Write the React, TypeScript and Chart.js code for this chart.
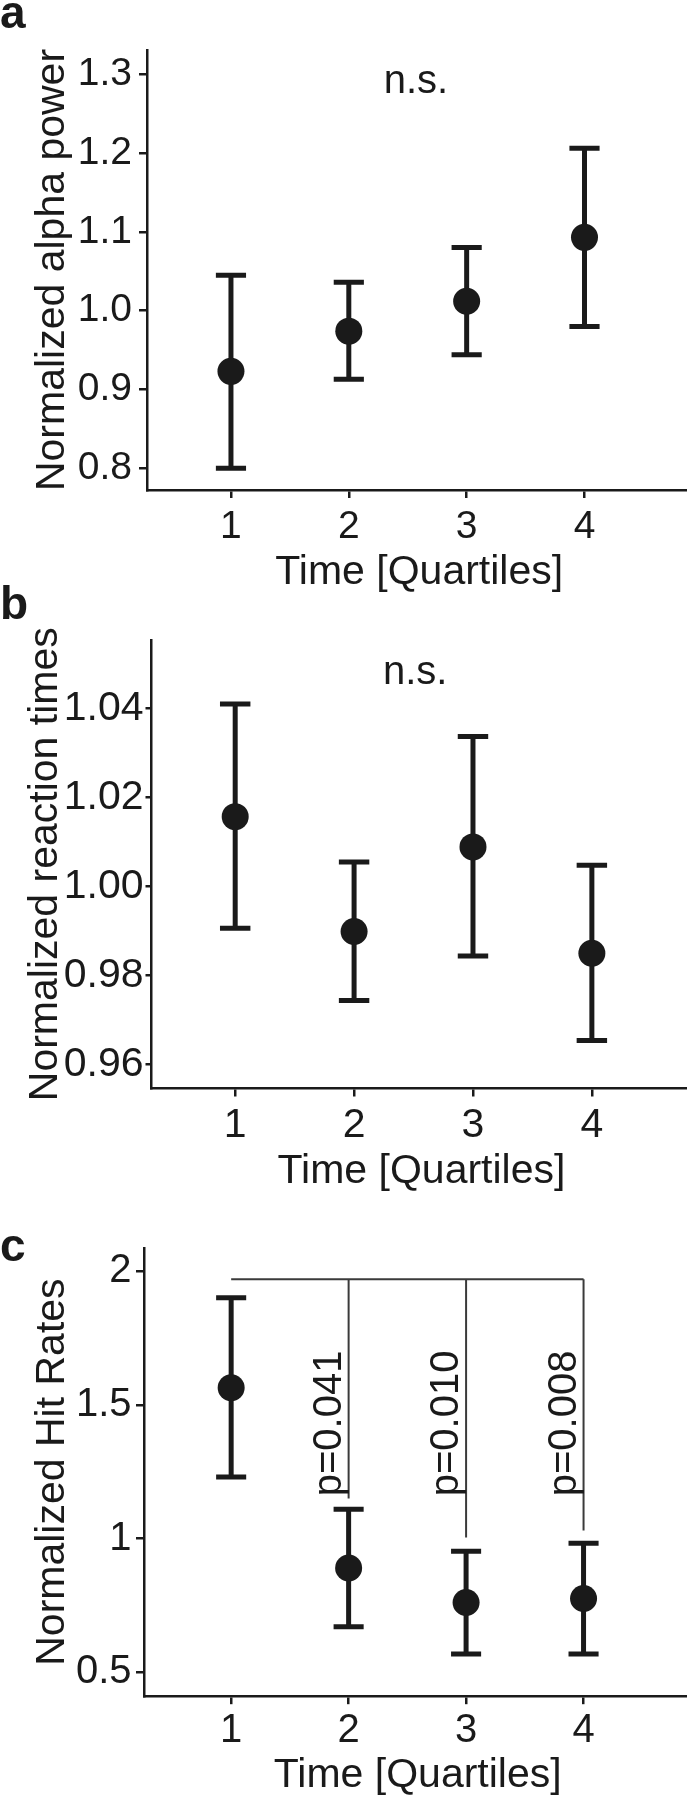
import React, { useEffect, useRef } from 'react';
import { Chart, registerables } from 'chart.js';

Chart.register(...registerables);

// ---------- data ----------
const quartiles = [1, 2, 3, 4];
const xTickLabels = ['1', '2', '3', '4'];

// panel a: normalized alpha power
const alphaMean = [0.923, 0.974, 1.012, 1.093];
const alphaUpper = [1.045, 1.036, 1.080, 1.206];
const alphaLower = [0.800, 0.913, 0.944, 0.980];
const alphaTicks = [0.8, 0.9, 1.0, 1.1, 1.2, 1.3];
const alphaTickLabels = ['0.8', '0.9', '1.0', '1.1', '1.2', '1.3'];

// panel b: normalized reaction times
const rtMean = [1.0157, 0.9899, 1.0089, 0.985];
const rtUpper = [1.041, 1.0055, 1.0337, 1.0048];
const rtLower = [0.9906, 0.9744, 0.9844, 0.9654];
const rtTicks = [0.96, 0.98, 1.0, 1.02, 1.04];
const rtTickLabels = ['0.96', '0.98', '1.00', '1.02', '1.04'];

// panel c: normalized hit rates
const hitMean = [1.564, 0.89, 0.761, 0.776];
const hitUpper = [1.9, 1.11, 0.953, 0.983];
const hitLower = [1.23, 0.671, 0.569, 0.569];
const hitTicks = [0.5, 1, 1.5, 2];
const hitTickLabels = ['0.5', '1', '1.5', '2'];

// significance bracket of panel c
const bracketY = 1.969;
const bracketFrom = 1;
const bracketTargets = [2, 3, 4];
const bracketEnds = [1.15, 1.004, 1.03];
const pLabels = ['p=0.041', 'p=0.010', 'p=0.008'];
const pLabelStart = 1.158;

// ---------- style ----------
const INK = '#1a1a1a';
const BRACKET = '#3a3a3a';
const FONT = "'Liberation Sans', Arial, Helvetica, sans-serif";
const PAGE_W = 687;
const PAGE_H = 1800;
const CANVAS_W = 705; // x axis runs past the right page edge, as in the cropped original
const CAP_HALF = 0.128;
const P_LABEL_SHIFT = 8;

type PanelCfg = {
  letter: string;
  offset: number;
  height: number;
  letterY: number;
  mean: number[];
  upper: number[];
  lower: number[];
  yTicks: number[];
  yTickLabels: string[];
  yTitle: string;
  xMin: number;
  xMax: number;
  yMin: number;
  yMax: number;
  top: number;
  left: number;
  bottom: number;
  tickFont: number;
  yTickLen: number;
  yTickPad: number;
  xTickPad: number;
  xTitlePad: number;
  yTitlePad: number;
  ns?: { x: number; y: number };
  bracket?: boolean;
};

const panels: PanelCfg[] = [
  {
    letter: 'a', offset: 0, height: 600, letterY: 28,
    mean: alphaMean, upper: alphaUpper, lower: alphaLower,
    yTicks: alphaTicks, yTickLabels: alphaTickLabels, yTitle: 'Normalized alpha power',
    xMin: 0.2875, xMax: 4.908, yMin: 0.7725, yMax: 1.3307,
    top: 50, left: 147, bottom: 490,
    tickFont: 39, yTickLen: 8, yTickPad: 7, xTickPad: 6, xTitlePad: 2.5, yTitlePad: 28,
    ns: { x: 2.57, y: 1.276 },
  },
  {
    letter: 'b', offset: 570, height: 630, letterY: 49,
    mean: rtMean, upper: rtUpper, lower: rtLower,
    yTicks: rtTicks, yTickLabels: rtTickLabels, yTitle: 'Normalized reaction times',
    xMin: 0.296, xMax: 4.838, yMin: 0.9546, yMax: 1.0554,
    top: 70, left: 151.5, bottom: 518.5,
    tickFont: 41, yTickLen: 6, yTickPad: 2, xTickPad: 5, xTitlePad: 3.5, yTitlePad: 21,
    ns: { x: 2.514, y: 1.0455 },
  },
  {
    letter: 'c', offset: 1170, height: 630, letterY: 91,
    mean: hitMean, upper: hitUpper, lower: hitLower,
    yTicks: hitTicks, yTickLabels: hitTickLabels, yTitle: 'Normalized Hit Rates',
    xMin: 0.258, xMax: 4.919, yMin: 0.411, yMax: 2.086,
    top: 78, left: 144, bottom: 526.2,
    tickFont: 40, yTickLen: 8, yTickPad: 4.5, xTickPad: 3, xTitlePad: 0, yTitlePad: 28,
    bracket: true,
  },
];

function segment(points: { x: number; y: number }[], color: string, width: number) {
  return {
    type: 'scatter' as const,
    data: points,
    showLine: true,
    borderColor: color,
    borderWidth: width,
    borderCapStyle: 'butt' as const,
    pointRadius: 0,
    pointHoverRadius: 0,
    fill: false,
    order: 1,
  };
}

function buildConfig(p: PanelCfg): any {
  const datasets: any[] = [
    {
      type: 'scatter',
      data: quartiles.map((x, i) => ({ x, y: p.mean[i] })),
      pointRadius: 13.5,
      pointHoverRadius: 13.5,
      pointBackgroundColor: INK,
      pointBorderWidth: 0,
      showLine: false,
      order: 0,
    },
  ];
  quartiles.forEach((x, i) => {
    datasets.push(segment([{ x, y: p.lower[i] }, { x, y: p.upper[i] }], INK, 5));
    datasets.push(segment([{ x: x - CAP_HALF, y: p.upper[i] }, { x: x + CAP_HALF, y: p.upper[i] }], INK, 5));
    datasets.push(segment([{ x: x - CAP_HALF, y: p.lower[i] }, { x: x + CAP_HALF, y: p.lower[i] }], INK, 5));
  });
  if (p.bracket) {
    datasets.push(segment([{ x: bracketFrom, y: bracketY }, { x: bracketTargets[bracketTargets.length - 1], y: bracketY }], BRACKET, 2));
    bracketTargets.forEach((t, i) => {
      datasets.push(segment([{ x: t, y: bracketY }, { x: t, y: bracketEnds[i] }], BRACKET, 2));
    });
  }

  const annot = {
    id: 'annot',
    afterDraw(chart: any) {
      const ctx = chart.ctx as CanvasRenderingContext2D;
      const xs = chart.scales.x;
      const ys = chart.scales.y;
      ctx.save();
      ctx.fillStyle = INK;
      ctx.textBaseline = 'alphabetic';
      ctx.textAlign = 'left';
      ctx.font = `bold 46px ${FONT}`;
      ctx.fillText(p.letter, 0, p.letterY);
      ctx.font = `40px ${FONT}`;
      if (p.ns) {
        ctx.textAlign = 'center';
        ctx.fillText('n.s.', xs.getPixelForValue(p.ns.x), ys.getPixelForValue(p.ns.y));
      }
      if (p.bracket) {
        ctx.textAlign = 'left';
        bracketTargets.forEach((t, i) => {
          ctx.save();
          ctx.translate(xs.getPixelForValue(t) - P_LABEL_SHIFT, ys.getPixelForValue(pLabelStart));
          ctx.rotate(-Math.PI / 2);
          ctx.fillText(pLabels[i], 0, 0);
          ctx.restore();
        });
      }
      ctx.restore();
    },
  };

  const tickFont = { family: FONT, size: p.tickFont };
  const titleFont = { family: FONT, size: 41, lineHeight: 1.2 };

  return {
    type: 'scatter',
    data: { datasets },
    plugins: [annot],
    options: {
      responsive: false,
      animation: false,
      events: [],
      layout: { padding: { top: p.top, left: 0, right: 0, bottom: 0 } },
      plugins: { legend: { display: false }, tooltip: { enabled: false } },
      scales: {
        x: {
          type: 'linear',
          position: 'bottom',
          min: p.xMin,
          max: p.xMax,
          afterBuildTicks: (s: any) => {
            s.ticks = quartiles.map((v) => ({ value: v }));
          },
          afterFit: (s: any) => {
            s.height = p.height - p.bottom;
          },
          ticks: {
            autoSkip: false,
            maxRotation: 0,
            padding: p.xTickPad,
            color: INK,
            font: tickFont,
            callback: (_v: any, i: number) => xTickLabels[i],
          },
          grid: { display: true, drawOnChartArea: false, drawTicks: true, tickLength: 8, lineWidth: 2.5, color: INK },
          border: { display: true, width: 2.5, color: INK },
          title: { display: true, text: 'Time [Quartiles]', color: INK, font: titleFont, padding: { top: 0, bottom: p.xTitlePad } },
        },
        y: {
          type: 'linear',
          position: 'left',
          min: p.yMin,
          max: p.yMax,
          afterBuildTicks: (s: any) => {
            s.ticks = p.yTicks.map((v) => ({ value: v }));
          },
          afterFit: (s: any) => {
            s.width = p.left;
          },
          ticks: {
            autoSkip: false,
            padding: p.yTickPad,
            color: INK,
            font: tickFont,
            callback: (_v: any, i: number) => p.yTickLabels[i],
          },
          grid: { display: true, drawOnChartArea: false, drawTicks: true, tickLength: p.yTickLen, lineWidth: 2.5, color: INK },
          border: { display: true, width: 2.5, color: INK },
          title: { display: true, text: p.yTitle, color: INK, font: titleFont, padding: { top: p.yTitlePad, bottom: 0 } },
        },
      },
    },
  };
}

function Panel({ cfg }: { cfg: PanelCfg }) {
  const ref = useRef<HTMLCanvasElement>(null);
  useEffect(() => {
    const chart = new Chart(ref.current as HTMLCanvasElement, buildConfig(cfg));
    return () => chart.destroy();
  }, [cfg]);
  return (
    <canvas
      ref={ref}
      width={CANVAS_W}
      height={cfg.height}
      style={{ position: 'absolute', left: 0, top: cfg.offset, display: 'block', width: CANVAS_W, height: cfg.height }}
    />
  );
}

export default function App() {
  return (
    <div
      style={{
        position: 'absolute',
        left: 0,
        top: 0,
        width: PAGE_W,
        height: PAGE_H,
        overflow: 'hidden',
        background: '#fff',
      }}
    >
      {panels.map((p) => (
        <Panel key={p.letter} cfg={p} />
      ))}
    </div>
  );
}
